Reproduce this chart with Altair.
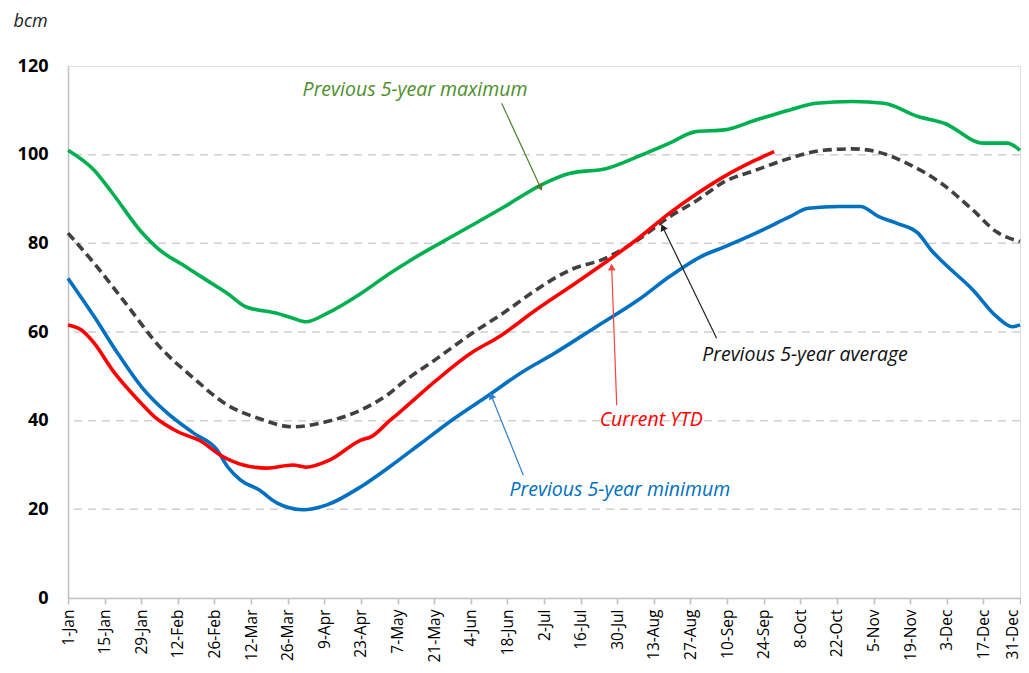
import math
import altair as alt
import pandas as pd

# ---------------- data ----------------
tick_labels = ["1-Jan", "15-Jan", "29-Jan", "12-Feb", "26-Feb", "12-Mar", "26-Mar", "9-Apr",
               "23-Apr", "7-May", "21-May", "4-Jun", "18-Jun", "2-Jul", "16-Jul", "30-Jul",
               "13-Aug", "27-Aug", "10-Sep", "24-Sep", "8-Oct", "22-Oct", "5-Nov", "19-Nov",
               "3-Dec", "17-Dec", "31-Dec"]
tick_days = [14 * i for i in range(len(tick_labels))]

max_days = [0, 10, 17, 28, 35, 44, 53, 61, 68, 80, 86, 91, 99, 112, 123, 131, 150, 167, 181,
            192, 206, 218, 230, 240, 251, 263, 276, 286, 300, 312, 325, 335, 350, 359, 364]
max_vals = [101, 96.5, 91.3, 82.6, 78.5, 75.1, 71.7, 68.7, 65.7, 64.2, 63.1, 62.3, 64.2, 68.7,
            73.2, 76.2, 82.6, 88.3, 93.2, 95.8, 96.9, 99.6, 102.6, 105.2, 105.6, 107.8, 110.1,
            111.6, 112, 111.6, 108.6, 107.1, 102.6, 102.6, 101]

min_days = [0, 10, 19, 28, 38, 48, 57, 61, 66, 73, 80, 90, 99, 112, 123, 135, 147, 160, 173,
            186, 202, 218, 230, 242, 251, 263, 276, 283, 295, 303, 310, 317, 325, 330, 335, 346,
            355, 361, 364]
min_vals = [72.1, 63.5, 55.2, 47.7, 41.7, 37.2, 33.4, 29.6, 26.6, 24.4, 21.4, 19.9, 21, 25.1,
            29.6, 34.9, 40.2, 45.4, 50.7, 55.2, 61.2, 67.2, 72.5, 77, 79.2, 82.3, 86, 87.9, 88.3,
            88.3, 86, 84.5, 82.3, 78.5, 75.5, 69.5, 63.5, 61.2, 61.6]

avg_days = [0, 10, 22, 35, 48, 61, 73, 86, 99, 112, 123, 128, 141, 154, 167, 179, 192, 205,
            218, 230, 240, 251, 263, 276, 289, 300, 309, 321, 334, 346, 355, 364]
avg_vals = [82.3, 75.5, 66.5, 56.7, 49.6, 43.5, 40.5, 38.6, 39.8, 42.4, 46.2, 48.6, 54, 59.5,
            64.5, 69.5, 74, 76.5, 80.8, 86, 89.5, 93.9, 96.5, 99.2, 101, 101.3, 100.7, 98, 93.5,
            87.5, 82.6, 80.4]

ytd_days = [0, 5, 10, 17, 28, 33, 42, 51, 58, 67, 76, 86, 91, 100, 112, 116, 123, 128, 141,
            154, 165, 179, 192, 205, 218, 230, 240, 251, 263, 270]
ytd_vals = [61.6, 60.5, 57.5, 51.4, 43.9, 40.9, 37.5, 35.3, 32.3, 30, 29.3, 30, 29.5, 31.1, 35.6,
            36.4, 40, 42.5, 49.2, 55.2, 59, 65, 70.2, 75.5, 81.1, 86.8, 91, 95.1, 98.8, 100.7]

grid_vals = [20, 40, 60, 80, 100]

ann_texts = ["Previous 5-year maximum", "Previous 5-year average", "Current YTD",
             "Previous 5-year minimum"]
ann_colors = ["#4E8F2E", "#111111", "#FF0000", "#0070C0"]
ann_day = [132.7, 281.8, 223, 211]
ann_val = [114.6, 54.8, 40.2, 24.4]

arrow_colors = ["#4E7F2E", "#222222", "#FF4040", "#2F80D0"]
arrow_x0 = [165.8, 248, 209.8, 174.1]
arrow_y0 = [111.6, 58.6, 43.5, 27.7]
arrow_x1 = [180.5, 227.6, 207.9, 162]
arrow_y1 = [92.8, 83.4, 74.4, 45.4]

# ---------------- chart ----------------
W, H = 952, 532
XMAX, YMAX = 364, 120

xs = alt.Scale(domain=[0, XMAX], nice=False, zero=False)
ys = alt.Scale(domain=[0, YMAX], nice=False)

label_arr = "[" + ",".join("'" + t + "'" for t in tick_labels) + "]"

x_axis = alt.Axis(values=tick_days, labelExpr=label_arr + "[round(datum.value/14)]",
                  labelAngle=-90, labelFont="Open Sans", labelFontSize=15.5, labelColor="#000",
                  labelPadding=5, labelOverlap=False, labelBound=False, labelFlush=False,
                  labelSeparation=0,
                  labelOffset={"condition": {"test": "datum.value >= 364", "value": -8},
                               "value": 0},
                  tickColor="#BFBFBF", tickSize=6, tickWidth=1.5,
                  domainColor="#BFBFBF", domainWidth=1.5, grid=False, title=None)
y_axis = alt.Axis(values=[0, 20, 40, 60, 80, 100, 120], labelFont="Open Sans", labelFontSize=18,
                  labelFontWeight="bold", labelColor="#000", labelPadding=20, ticks=False,
                  labelOverlap=False, labelFlush=False,
                  domainColor="#BFBFBF", domainWidth=1.5, grid=False,
                  title="bcm", titleAngle=0, titleAlign="left", titleBaseline="alphabetic",
                  titleX=-55, titleY=-40, titleFont="Open Sans", titleFontSize=18,
                  titleFontStyle="italic", titleFontWeight="normal", titleColor="#222")


def X(field):
    return alt.X(field, type="quantitative", scale=xs, axis=x_axis)


def Y(field):
    return alt.Y(field, type="quantitative", scale=ys, axis=y_axis)


grid_df = pd.DataFrame({"v": grid_vals})
grid = alt.Chart(grid_df).mark_rule(color="#D0D0D0", strokeWidth=1.5, strokeDash=[8, 6]).encode(
    y=Y("v"),
)


def series(days, vals, color, dash=None):
    df = pd.DataFrame({"d": days, "v": vals})
    kw = dict(color=color, strokeWidth=3.6, strokeJoin="round", strokeCap="butt",
              interpolate="monotone")
    if dash:
        kw["strokeDash"] = dash
    return alt.Chart(df).mark_line(**kw).encode(x=X("d"), y=Y("v"))


l_max = series(max_days, max_vals, "#00B050")
l_min = series(min_days, min_vals, "#0070C0")
l_avg = series(avg_days, avg_vals, "#404040", [9, 5])
l_ytd = series(ytd_days, ytd_vals, "#FF0000")

ann_df = pd.DataFrame({"d": ann_day, "v": ann_val, "t": ann_texts, "c": ann_colors})
ann = alt.Chart(ann_df).mark_text(font="Open Sans", fontSize=19.5, fontStyle="italic",
                                  align="center", baseline="middle").encode(
    x=X("d"), y=Y("v"), text="t:N", color=alt.Color("c:N", scale=None),
)

angles = []
for a, b, c, d in zip(arrow_x0, arrow_y0, arrow_x1, arrow_y1):
    dx = (c - a) * W / XMAX
    dy = -(d - b) * H / YMAX
    angles.append(math.degrees(math.atan2(dx, -dy)) % 360)

arr_df = pd.DataFrame({"x0": arrow_x0, "y0": arrow_y0, "x1": arrow_x1, "y1": arrow_y1,
                       "c": arrow_colors, "ang": angles})
arr_lines = alt.Chart(arr_df).mark_rule(strokeWidth=1.2).encode(
    x=X("x0"), y=Y("y0"), x2="x1:Q", y2="y1:Q", color=alt.Color("c:N", scale=None),
)
arr_heads = alt.Chart(arr_df).mark_point(shape="triangle", filled=True, size=60, opacity=1).encode(
    x=X("x1"), y=Y("y1"),
    angle=alt.Angle("ang:Q", scale=None), color=alt.Color("c:N", scale=None),
)

chart = alt.layer(grid, l_max, l_min, l_avg, l_ytd, arr_lines, arr_heads, ann).properties(
    width=W, height=H,
    autosize=alt.AutoSizeParams(type="none"),
    padding={"left": 60, "top": 58, "right": 1, "bottom": 67},
).configure_view(stroke="#BFBFBF", strokeWidth=1.5).configure(background="white")

chart.save("out.html", embed_options={"renderer": "svg", "actions": False})
